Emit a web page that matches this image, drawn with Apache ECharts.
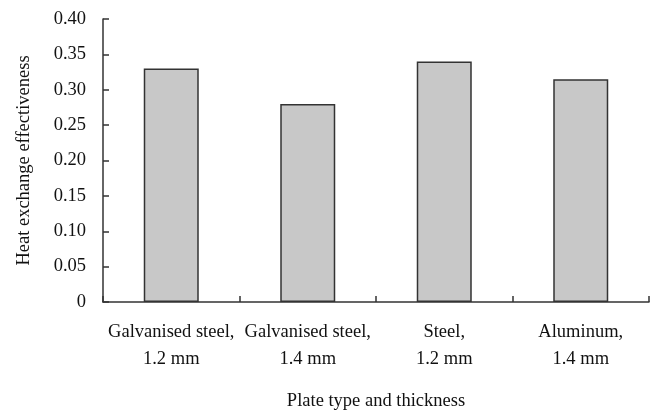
<!DOCTYPE html>
<html><head><meta charset="utf-8">
<script src="https://cdn.jsdelivr.net/npm/echarts@6/dist/echarts.min.js"></script>
<style>html,body{margin:0;padding:0;background:#fff}#c{width:655px;height:416px}</style>
</head><body><div id="c"></div>
<script>
const categories = ['Galvanised steel,\n1.2 mm', 'Galvanised steel,\n1.4 mm', 'Steel,\n1.2 mm', 'Aluminum,\n1.4 mm'];
const values = [0.33, 0.28, 0.34, 0.315];
const font = 'Liberation Serif';
const fs = 18.5;
const chart = echarts.init(document.getElementById('c'));
chart.setOption({
  animation: false,
  grid: {left: 103, right: 6, top: 19, bottom: 110, containLabel: false},
  xAxis: {
    type: 'category', data: categories,
    name: 'Plate type and thickness', nameLocation: 'middle', nameGap: 90,
    nameTextStyle: {fontFamily: font, fontSize: fs, color: '#111'},
    axisLine: {lineStyle: {color: '#333', width: 1.5}},
    axisTick: {show: true, inside: true, length: 6, alignWithLabel: false, lineStyle: {color: '#333', width: 1.5}},
    axisLabel: {fontFamily: font, fontSize: fs, color: '#111', lineHeight: 27, margin: 17, interval: 0}
  },
  yAxis: {
    type: 'value', min: 0, max: 0.4, interval: 0.05,
    name: 'Heat exchange effectiveness', nameLocation: 'middle', nameGap: 69, nameRotate: 90,
    nameTextStyle: {fontFamily: font, fontSize: fs, color: '#111'},
    axisLine: {show: true, lineStyle: {color: '#333', width: 1.5}},
    axisTick: {show: true, inside: true, length: 6, lineStyle: {color: '#333', width: 1.5}},
    splitLine: {show: false},
    axisLabel: {fontFamily: font, fontSize: fs, color: '#111', margin: 17,
      formatter: v => v === 0 ? '0' : v.toFixed(2)}
  },
  series: [{
    type: 'bar', data: values, barWidth: 55,
    itemStyle: {color: '#c8c8c8', borderColor: '#333', borderWidth: 1.5}
  }]
});
</script></body></html>
